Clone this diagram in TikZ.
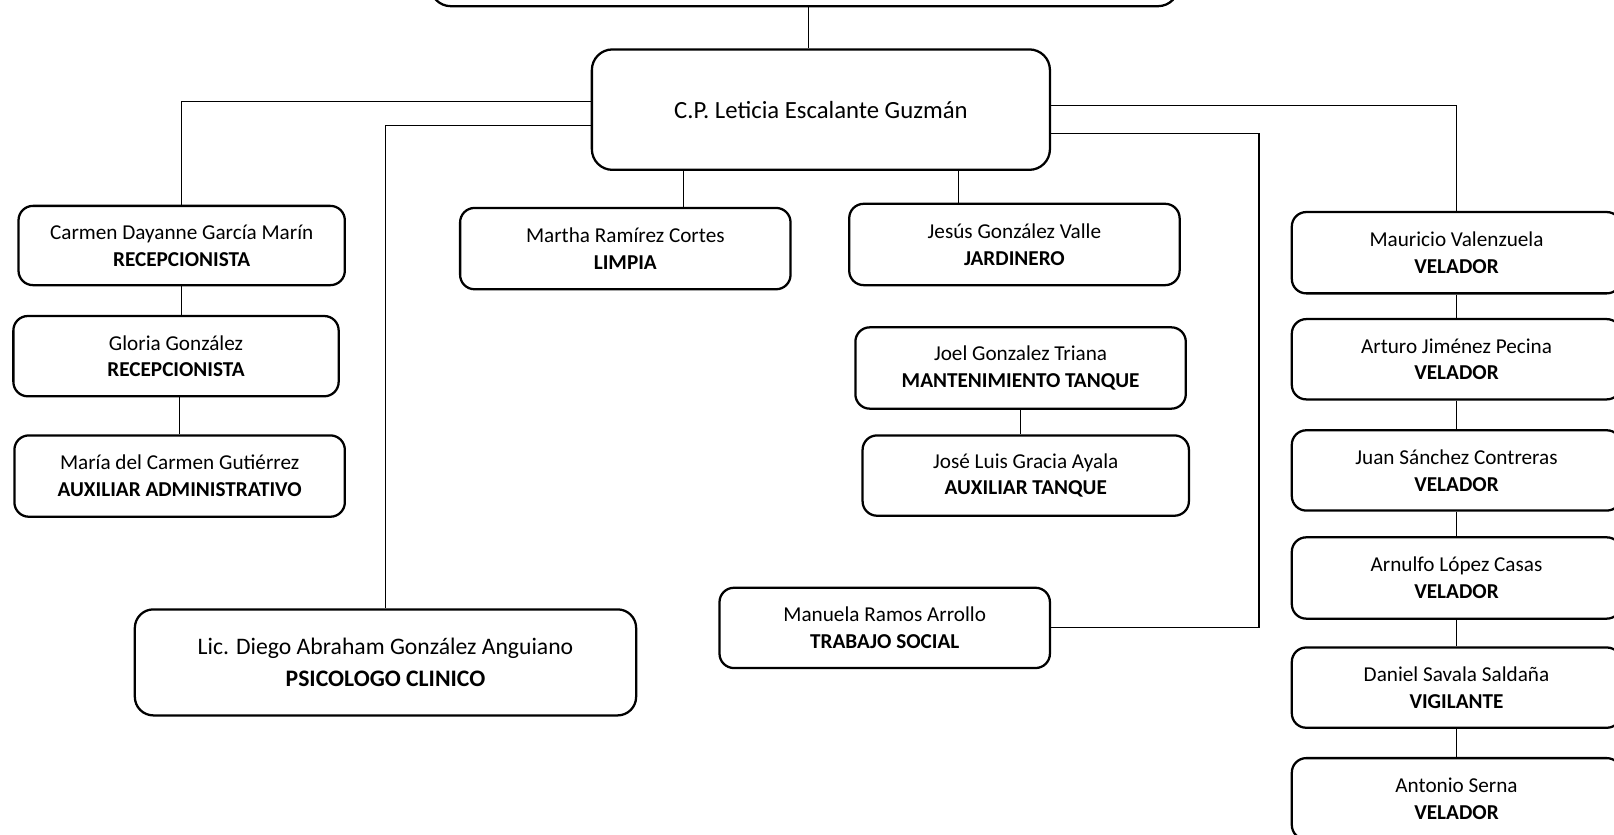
\documentclass[tikz,border=0pt]{standalone}
\usepackage{fontspec}
\setmainfont{Carlito}
\usepackage{tikz}
\usetikzlibrary{arrows,positioning}
\tikzset{font=\fontsize{10.3}{13}\selectfont}
\tikzstyle{box}=[draw,rounded corners=7pt,line width=1.1pt,align=center,inner sep=0pt,minimum width=160.5pt,minimum height=39.5pt]
\tikzstyle{wire}=[line width=0.5pt]

\begin{document}
\begin{tikzpicture}[x=0.5pt,y=-0.5pt]
\useasboundingbox (0,0) rectangle (1568,811);
\node[box,minimum width=363.5pt,minimum height=36pt,rounded corners=10pt] (A) at (781.5,-30) {};
\node[box,minimum width=222.5pt,minimum height=58.5pt,rounded corners=10pt,font=\fontsize{12}{14}\selectfont] (B) at (797.5,106.5) {C.P. Leticia Escalante Guzmán};
\node[box,minimum width=158.5pt,minimum height=38.5pt] (C) at (176.5,238.5) {Carmen Dayanne García Marín\\ \textbf{RECEPCIONISTA}};
\node[box,minimum width=158pt,minimum height=39pt] (D) at (171,346) {Gloria González\\ \textbf{RECEPCIONISTA}};
\node[box] (E) at (174.5,462.5) {María del Carmen Gutiérrez\\ \textbf{AUXILIAR ADMINISTRATIVO}};
\node[box] (F) at (607.5,241.5) {Martha Ramírez Cortes\\ \textbf{LIMPIA}};
\node[box] (G) at (985.5,237.5) {Jesús González Valle\\ \textbf{JARDINERO}};
\node[box] (H) at (991.5,357.5) {Joel Gonzalez Triana\\ \textbf{MANTENIMIENTO TANQUE}};
\node[box,minimum width=158.5pt,minimum height=39pt] (I) at (996.5,462) {José Luis Gracia Ayala\\ \textbf{AUXILIAR TANQUE}};
\node[box,minimum height=39pt] (J) at (859.5,610) {Manuela Ramos Arrollo\\ \textbf{TRABAJO SOCIAL}};
\node[box,minimum width=243.5pt,minimum height=51.5pt,rounded corners=9pt,font=\fontsize{11.5}{15.5}\selectfont] (K) at (374.5,643.5) {Lic. Diego Abraham González Anguiano\\ \textbf{PSICOLOGO CLINICO}};
\node[box,minimum width=160pt] (L) at (1415,245.5) {Mauricio Valenzuela\\ \textbf{VELADOR}};
\node[box,minimum width=160pt,minimum height=39pt] (M) at (1415,349) {Arturo Jiménez Pecina\\ \textbf{VELADOR}};
\node[box,minimum width=160pt,minimum height=39pt] (N) at (1415,457) {Juan Sánchez Contreras\\ \textbf{VELADOR}};
\node[box,minimum width=160pt] (O) at (1415,561.5) {Arnulfo López Casas\\ \textbf{VELADOR}};
\node[box,minimum width=160pt,minimum height=39pt] (P) at (1415,668) {Daniel Savala Saldaña\\ \textbf{VIGILANTE}};
\node[box,minimum width=160pt] (Q) at (1415,776) {Antonio Serna\\ \textbf{VELADOR}};
\draw[wire]
([xshift=1.75pt]A.south) -- ([xshift=1.75pt]A.south |- B.north)
(B.178) -| (C.north)
(B.184.2) -| (K.north)
(B.204) -- (B.204 |- F.north)
(B.336.6) -- (B.336.6 |- G.north)
(B.1) -| (L.north)
(B.-6.5) -- ++(202,0) |- (J.east)
(C.south) -- (C.south |- D.north)
(E.north |- D.south) -- (E.north)
(H.south) -- (H.south |- I.north)
(L.south) -- (M.north)
(M.south) -- (N.north)
(N.south) -- (O.north)
(O.south) -- (P.north)
(P.south) -- (Q.north);
\end{tikzpicture}
\end{document}
